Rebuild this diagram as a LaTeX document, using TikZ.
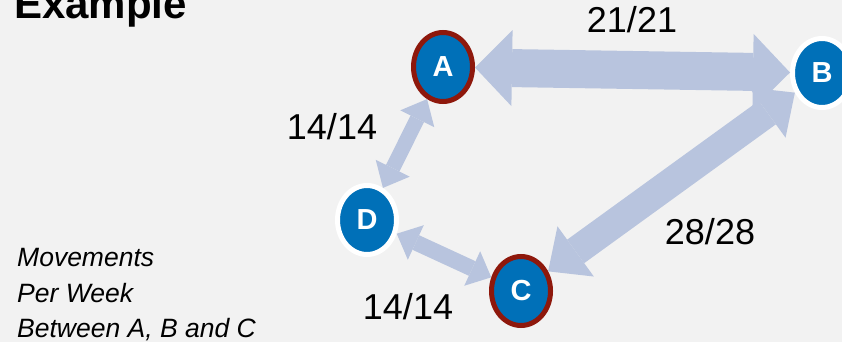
\documentclass[tikz,border=0pt]{standalone}
\usepackage{fontspec}
\setmainfont{Liberation Sans}
\usetikzlibrary{shapes.geometric, arrows.meta}

\definecolor{hubblue}{RGB}{0,112,184}
\definecolor{hubred}{RGB}{142,24,12}
\definecolor{flowblue}{RGB}{184,196,222}
\definecolor{paper}{RGB}{242,242,242}

\tikzset{
  hub/.style={ellipse, fill=hubblue, draw=white, line width=5pt,
    minimum width=59pt, minimum height=69pt, inner sep=0pt,
    text=white, font=\fontsize{29}{29}\selectfont\bfseries},
  keyhub/.style={hub, draw=hubred},
  flow/.style n args={3}{color=flowblue, line width=#1,
    arrows={Triangle[length=#3, width=#2, line width=0pt]-Triangle[length=#3, width=#2, line width=0pt]}},
  count/.style={anchor=base, inner sep=0pt, font=\fontsize{36}{36}\selectfont},
  note/.style={anchor=base west, inner sep=0pt, font=\fontsize{26.5}{26.5}\selectfont\itshape}
}

\begin{document}
\begin{tikzpicture}[x=1pt, y=-1pt]
  % Bakgrunn
  \fill[paper] (0,0) rectangle (842,342);
  \useasboundingbox (0,0) rectangle (842,342);
  % Tittel og forklaring
  \node[anchor=base west, inner sep=0pt, font=\fontsize{42}{42}\selectfont\bfseries] (title) at (14,19) {Example};
  \node[note] (note1) at (17,266) {Movements};
  \node[note] (note2) at (17,302) {Per Week};
  \node[note] (note3) at (17,337) {Between A, B and C};
  % Steder
  \node[keyhub] (A) at (443,67) {A};
  \node[hub] (B) at (822,73) {B};
  \node[keyhub] (C) at (521,291) {C};
  \node[hub] (D) at (367,220) {D};
  % Flyt mellom stedene
  \draw[flow={38pt}{76pt}{37pt}] (A) -- (B);
  \draw[flow={29pt}{62pt}{34pt}] (B) -- (C);
  \draw[flow={15pt}{38pt}{22pt}] (A) -- (D);
  \draw[flow={16pt}{38pt}{21pt}] (D) -- (C);
  % Antall
  \node[count] (ab) at (632,33) {21/21};
  \node[count] (bc) at (710,244) {28/28};
  \node[count] (ad) at (332,139) {14/14};
  \node[count] (dc) at (408,319) {14/14};
\end{tikzpicture}
\end{document}
